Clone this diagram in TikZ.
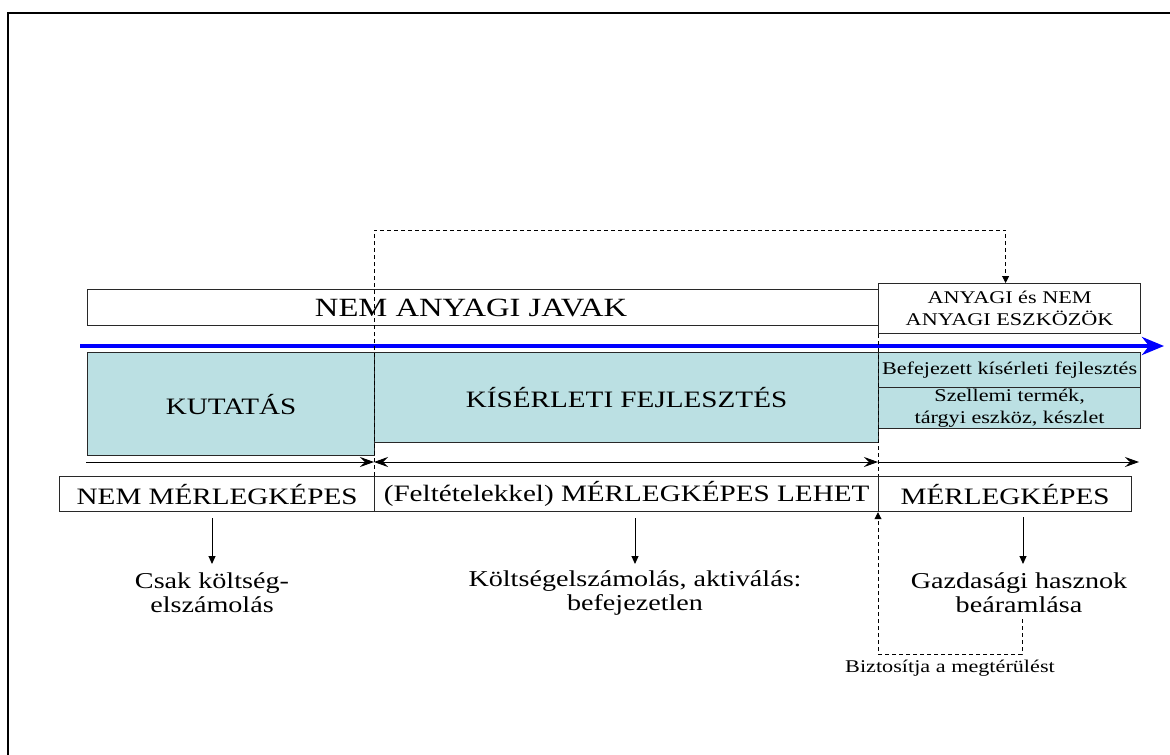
\documentclass[tikz,border=0pt]{standalone}
\usepackage{fontspec}
\setmainfont{Liberation Serif}
\newfontfamily\wf[FakeStretch=1.24]{Liberation Serif}
\usetikzlibrary{arrows.meta}
\definecolor{tealfill}{RGB}{187,224,227}
\definecolor{edgecol}{RGB}{40,40,40}
\tikzset{sth/.tip={Stealth[length=14pt,width=10pt,inset=5pt]}}
\begin{document}
\begin{tikzpicture}[x=1pt,y=-1pt,
  box/.style={draw=edgecol, line width=1.2pt, inner sep=0pt, anchor=north west, align=center,
              font=\wf\fontsize{23.5}{25}\selectfont},
  tbox/.style={box, fill=tealfill},
  sbox/.style={box, font=\wf\fontsize{17.9}{22}\selectfont},
  stbox/.style={sbox, fill=tealfill},
  lbl/.style={align=center, inner sep=0pt, font=\wf\fontsize{22.7}{24}\selectfont},
  dsh/.style={dash pattern=on 4pt off 3pt, line width=0.9pt},
  tri/.style={-{Triangle[length=8pt,width=7pt]}},
  stl/.style={line width=1pt},
]
\useasboundingbox (0,0) rectangle (1170,755);
% outer frame (right and bottom edges outside the picture)
\draw[line width=2pt] (8,756) -- (8,13) -- (1171,13);

% boxes
\node[box, minimum width=791pt, minimum height=36pt, font=\wf\fontsize{26.3}{28}\selectfont] (javak) at (87,289) {NEM ANYAGI JAVAK\hspace*{24pt}};
\node[sbox, minimum width=262pt, minimum height=50pt] (eszk) at (878,283) {ANYAGI és NEM\\ANYAGI ESZKÖZÖK};

\node[tbox, minimum width=287pt, minimum height=103pt] (kut) at (87,352) {KUTATÁS};
\node[tbox, minimum width=504pt, minimum height=90pt] (kis) at (374,352) {KÍSÉRLETI FEJLESZTÉS};
\node[stbox, minimum width=262pt, minimum height=35pt] (bef) at (878,352) {Befejezett kísérleti fejlesztés};
\node[stbox, minimum width=262pt, minimum height=41pt] (szel) at (878,387) {Szellemi termék,\\tárgyi eszköz, készlet};

\node[box, minimum width=315pt, minimum height=35pt] (nmk) at (59,476) {NEM MÉRLEGKÉPES};
\node[box, minimum width=504pt, minimum height=35pt] (lehet) at (374,476) {(Feltételekkel) MÉRLEGKÉPES LEHET};
\node[box, minimum width=253pt, minimum height=35pt] (mk) at (878,476) {MÉRLEGKÉPES};

% result texts
\node[lbl] (csak) at (212,593) {Csak költség-\\elszámolás};
\node[lbl] (koltseg) at (635,593) {Költségelszámolás, aktiválás:\\befejezetlen};
\node[lbl] (gazd) at (1019,593) {Gazdasági hasznok\\beáramlása};
\node[inner sep=0pt, font=\wf\fontsize{17.9}{20}\selectfont] (bizt) at (950,668) {Biztosítja a megtérülést};

% blue time axis
\coordinate (bs) at (80,346);
\coordinate (be) at (1164,346);
\draw[blue, line width=4pt, -{Stealth[length=22pt,width=18pt,inset=7pt]}] (bs) -- (be);

% span arrows
\coordinate (r0) at (86,462);
\coordinate (r1) at (374,462);
\coordinate (r2) at (878,462);
\coordinate (r3) at (1139,462);
\draw[stl, -sth] (r0) -- (r1);
\draw[stl, sth-sth] (r1) -- (r2);
\draw[stl, -sth] (r2) -- (r3);

% dashed connectors
\draw[dsh, -{Triangle[length=7pt,width=7pt]}] (lehet.north west) -- (374,230) -| ([xshift=-4pt]eszk.north);
\draw[dsh] (eszk.south west) -- (mk.north west);
\coordinate (gbot) at (1022,619);
\draw[dsh, -{Triangle[length=7pt,width=7pt]}] (gbot) -- (1022,654) -| (mk.south west);

% down arrows
\draw[line width=1pt, tri] (csak.north |- nmk.south) ++(0,6) -- (212,564);
\draw[line width=1pt, tri] (koltseg.north |- lehet.south) ++(0,6) -- (635,564);
\draw[line width=1pt, tri] (1023,517) -- (1023,564);
\end{tikzpicture}
\end{document}
